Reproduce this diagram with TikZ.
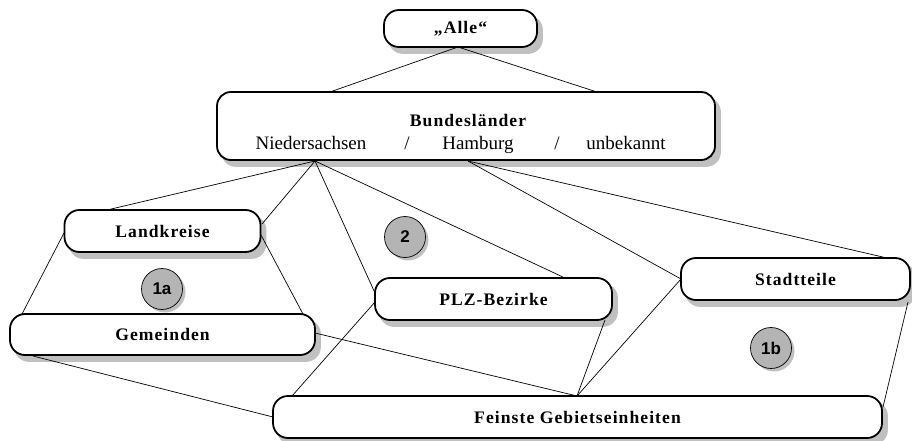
\documentclass[tikz,border=0pt]{standalone}
\usepackage{fontspec}
\setmainfont{Liberation Serif}
\newfontfamily\labelfont[LetterSpace=6]{Liberation Serif}
\newfontfamily\markfont{Liberation Sans}
\usetikzlibrary{calc}
\definecolor{shadowgray}{HTML}{C0C0C0}
\definecolor{markgray}{HTML}{B4B4B4}
\pgfdeclarelayer{shadowlayer}
\pgfdeclarelayer{linelayer}
\pgfsetlayers{shadowlayer,linelayer,main}
\tikzset{
  labeltext/.style={font=\labelfont\bfseries\fontsize{17.6}{20}\selectfont},
  plaintext/.style={font=\fontsize{19}{22}\selectfont, anchor=base},
  levelbox/.style={draw=black, line width=1.8pt, fill=white, rounded corners=15pt,
    inner sep=0pt, labeltext},
  edge/.style={draw=black, line width=0.7pt},
  markcircle/.style={circle, draw=black, line width=0.7pt, fill=markgray, inner sep=0pt,
    minimum size=41pt, font=\markfont\bfseries\fontsize{17}{19}\selectfont},
  boxshadow/.style={fill=shadowgray, rounded corners=15pt},
}
\begin{document}
\begin{tikzpicture}[x=1pt, y=-1pt]
\useasboundingbox (0,0) rectangle (912,441);

% hierarchy levels
\node[levelbox, minimum width=153pt, minimum height=37pt] (alle) at (460.5,28.5) {„Alle“};
\node[levelbox, minimum width=498pt, minimum height=68pt, rounded corners=14pt] (bl) at (466,126) {};
\node[labeltext, anchor=base] (bltitle) at (468,127) {Bundesländer};
\node[plaintext] (nds) at (311,149) {Niedersachsen};
\node[plaintext] (sep1) at (407,149) {/};
\node[plaintext] (hh) at (478,149) {Hamburg};
\node[plaintext] (sep2) at (557,149) {/};
\node[plaintext] (unb) at (626,149) {unbekannt};
\node[levelbox, minimum width=196pt, minimum height=42pt] (lk) at (162.5,231) {Landkreise};
\node[levelbox, minimum width=305pt, minimum height=41pt] (gm) at (162.5,334.5) {Gemeinden};
\node[levelbox, minimum width=237pt, minimum height=42pt] (plz) at (493.5,299) {PLZ-Bezirke};
\node[levelbox, minimum width=229pt, minimum height=42pt] (st) at (795.5,279) {Stadtteile};
\node[levelbox, minimum width=609pt, minimum height=42pt] (fg) at (577.5,417) {Feinste Gebietseinheiten};

% drop shadows
\begin{pgfonlayer}{shadowlayer}
  \foreach \b in {alle,bl,lk,gm,plz,st,fg}
    \fill[boxshadow] ([shift={(5,6)}]\b.south west) rectangle ([shift={(5,6)}]\b.north east);
\end{pgfonlayer}

% attachment points on the box borders
\coordinate (alle-s) at (458,47);
\coordinate (bl-nw) at (330,92);
\coordinate (bl-ne) at (597,92);
\coordinate (bl-s1) at (315,161);
\coordinate (bl-s2) at (468,161);
\coordinate (lk-n) at (107,210);
\coordinate (lk-e) at (262,224);
\coordinate (lk-w) at (64,233);
\coordinate (lk-se) at (261,235);
\coordinate (gm-nw) at (22,314);
\coordinate (gm-ne) at (303,314);
\coordinate (gm-e) at (315,333);
\coordinate (gm-sw) at (33,356);
\coordinate (plz-w1) at (375,293);
\coordinate (plz-w2) at (375,302);
\coordinate (plz-n) at (565,278);
\coordinate (plz-se) at (605,320);
\coordinate (st-w) at (681,279);
\coordinate (st-ne) at (887,258);
\coordinate (st-se) at (908,302);
\coordinate (fg-n1) at (292,396);
\coordinate (fg-n2) at (577,396);
\coordinate (fg-w) at (273,417);
\coordinate (fg-e) at (883,407);

% connectors
\begin{pgfonlayer}{linelayer}
  \draw[edge] (alle-s) -- (bl-nw);
  \draw[edge] (alle-s) -- (bl-ne);
  \draw[edge] (bl-s1) -- (lk-n);
  \draw[edge] (bl-s1) -- (lk-e);
  \draw[edge] (bl-s1) -- (plz-w1);
  \draw[edge] (bl-s1) -- (plz-n);
  \draw[edge] (bl-s2) -- (st-w);
  \draw[edge] (bl-s2) -- (st-ne);
  \draw[edge] (lk-w) -- (gm-nw);
  \draw[edge] (lk-se) -- (gm-ne);
  \draw[edge] (gm-e) -- (fg-n2);
  \draw[edge] (gm-sw) -- (fg-w);
  \draw[edge] (plz-w2) -- (fg-n1);
  \draw[edge] (plz-se) -- (fg-n2);
  \draw[edge] (st-w) -- (fg-n2);
  \draw[edge] (st-se) -- (fg-e);
\end{pgfonlayer}

% region markers
\foreach \p/\t/\n in {{(162,289)}/1a/m1a, {(405,237)}/2/m2, {(771,348)}/1b/m1b}{
  \fill[shadowgray] \p ++(3,3) circle (20.5pt);
  \node[markcircle] (\n) at \p {\t};
}
\end{tikzpicture}
\end{document}
